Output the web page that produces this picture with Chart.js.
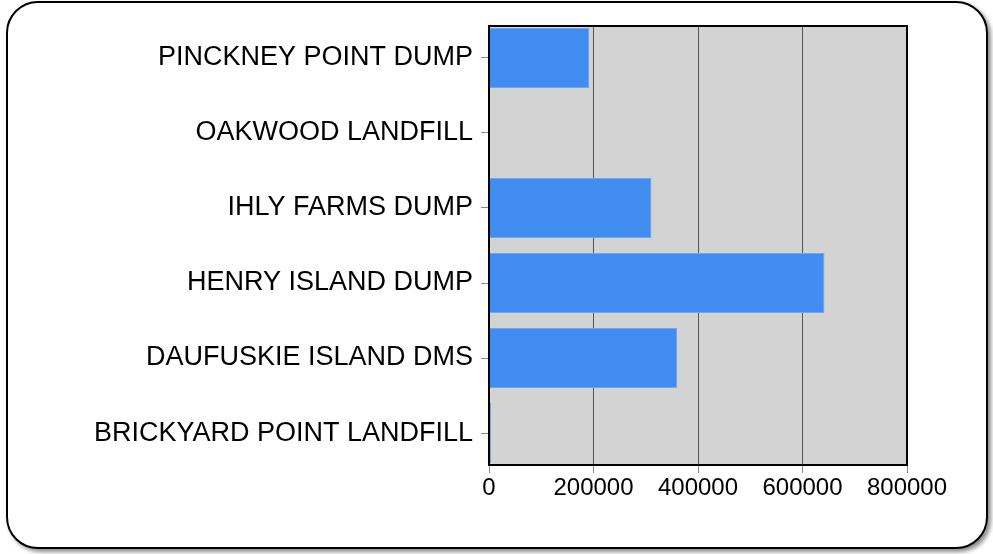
<!DOCTYPE html>
<html>
<head>
<meta charset="utf-8">
<script src="https://cdn.jsdelivr.net/npm/chart.js@4.4.0/dist/chart.umd.min.js"></script>
<style>
  html, body { margin: 0; padding: 0; background: #fff; }
  #wrap { position: relative; width: 993px; height: 554px; overflow: hidden; }
  #frame {
    position: absolute; left: 6px; top: 1px; width: 978px; height: 544px;
    border: 2px solid #000; border-radius: 32px; background: #fff;
    box-shadow: 3px 3px 4px rgba(0,0,0,0.45);
  }
  #chart { position: absolute; left: 0; top: 0; }
</style>
</head>
<body>
<div id="wrap">
  <div id="frame"></div>
  <canvas id="chart" width="993" height="554"></canvas>
</div>
<script>
const sites = [
  "PINCKNEY POINT DUMP",
  "OAKWOOD LANDFILL",
  "IHLY FARMS DUMP",
  "HENRY ISLAND DUMP",
  "DAUFUSKIE ISLAND DMS",
  "BRICKYARD POINT LANDFILL"
]
const amounts = [192000, 0, 311000, 642000, 360000, 4000]
const xTicks = [0, 200000, 400000, 600000, 800000]

// gray plot background + black frame around the plot area
const plotBox = {
  id: "plotBox",
  beforeDraw(chart) {
    const { ctx, chartArea: a } = chart
    ctx.save()
    ctx.fillStyle = "#d3d3d3"
    ctx.fillRect(a.left, a.top, a.right - a.left, a.bottom - a.top)
    ctx.restore()
  },
  afterDraw(chart) {
    const { ctx, chartArea: a } = chart
    ctx.save()
    ctx.strokeStyle = "#000"
    ctx.lineWidth = 2
    ctx.strokeRect(a.left, a.top, a.right - a.left, a.bottom - a.top)
    ctx.restore()
  }
}

const chart = new Chart(document.getElementById("chart"), {
  type: "bar",
  data: {
    datasets: [{
      data: amounts.map((v, i) => ({ x: v, y: i })),
      backgroundColor: "#418cf0",
      borderColor: "#6fa6f0",
      borderWidth: 1,
      categoryPercentage: 0.8,
      barPercentage: 1
    }]
  },
  options: {
    indexAxis: "y",
    responsive: false,
    animation: false,
    layout: { padding: { left: 0, right: 86, top: 26, bottom: 0 } },
    plugins: { legend: { display: false }, tooltip: { enabled: false } },
    scales: {
      x: {
        type: "linear",
        min: 0,
        max: 800000,
        afterBuildTicks: (axis) => { axis.ticks = xTicks.map(v => ({ value: v })) },
        afterFit: (axis) => { axis.height = 89 },
        grid: { color: "#555", lineWidth: 1, tickLength: 8, tickColor: "#888" },
        border: { display: false },
        ticks: {
          color: "#000",
          font: { family: "Liberation Sans, Arial", size: 24 },
          padding: 1,
          maxRotation: 0,
          callback: (v) => String(v)
        }
      },
      y: {
        type: "linear",
        reverse: true,
        offset: false,
        min: -0.4255,
        max: 5.4255,
        afterBuildTicks: (axis) => { axis.ticks = sites.map((s, i) => ({ value: i })) },
        afterFit: (axis) => { axis.width = 489 },
        grid: { drawOnChartArea: false, offset: false, tickLength: 8, color: "#888" },
        border: { display: false },
        ticks: {
          color: "#000",
          font: { family: "Liberation Sans, Arial", size: 27 },
          padding: 8,
          callback: (v) => sites[v]
        }
      }
    }
  },
  plugins: [plotBox]
})
</script>
</body>
</html>
